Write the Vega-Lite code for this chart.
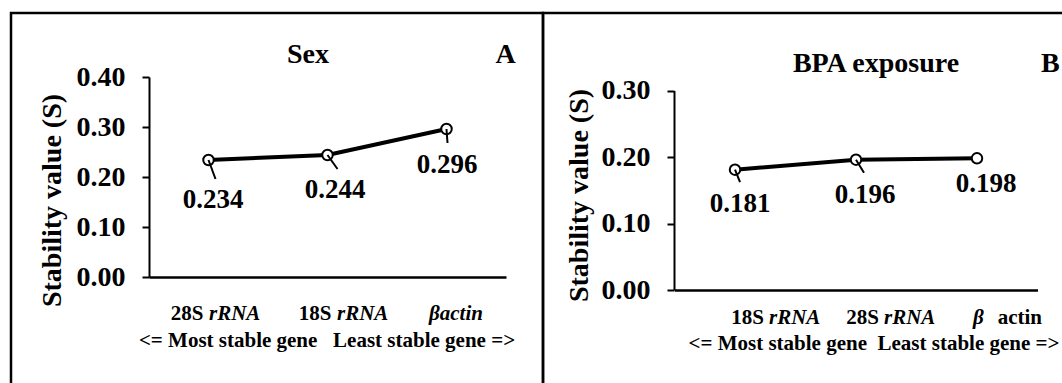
{
  "$schema": "https://vega.github.io/schema/vega-lite/v6.json",
  "padding": {"left": 9, "top": 11, "right": 0, "bottom": 0},
  "spacing": 0,
  "bounds": "flush",
  "config": {
    "font": "Liberation Serif, Times New Roman, serif",
    "view": {"stroke": "black", "strokeWidth": 2.5},
    "text": {"font": "Liberation Serif, Times New Roman, serif", "fontWeight": "bold", "color": "black"},
    "axis": {"grid": false, "domainColor": "black", "tickColor": "black", "labelColor": "black", "titleColor": "black", "labelFont": "Liberation Serif, Times New Roman, serif", "titleFont": "Liberation Serif, Times New Roman, serif", "labelFontWeight": "bold", "titleFontWeight": "bold"}
  },
  "datasets": {
    "sex": [
      {"gene": "28S rRNA", "S": 0.234, "pre": "28S", "suf": "rRNA"},
      {"gene": "18S rRNA", "S": 0.244, "pre": "18S", "suf": "rRNA"},
      {"gene": "βactin", "S": 0.296, "pre": "", "suf": "βactin"}
    ],
    "bpa": [
      {"gene": "18S rRNA", "S": 0.181, "pre": "18S", "suf": "rRNA"},
      {"gene": "28S rRNA", "S": 0.196, "pre": "28S", "suf": "rRNA"},
      {"gene": "β actin", "S": 0.198, "pre": "actin", "suf": "β"}
    ]
  },
  "hconcat": [
    {
      "width": 532,
      "height": 400,
      "data": {"name": "sex"},
      "encoding": {
        "x": {"field": "gene", "type": "nominal",
          "scale": {"type": "point", "domain": ["28S rRNA", "18S rRNA", "βactin"], "range": [138, 495], "padding": 0.5},
          "axis": {"orient": "bottom", "offset": -136, "labels": false, "ticks": false, "domainWidth": 2.5,
            "title": "<= Most stable gene\u00a0\u00a0 Least stable gene =>", "titleFontSize": 21, "titleX": 315.5, "titleY": 63,
            "titleBaseline": "middle", "titleAlign": "center", "titleLimit": 1000}},
        "y": {"field": "S", "type": "quantitative",
          "scale": {"domain": [0, 0.4], "range": [264, 64], "nice": false, "zero": false},
          "axis": {"orient": "left", "offset": -138, "values": [0, 0.1, 0.2, 0.3, 0.4], "format": ".2f", "labelFontSize": 28,
            "labelPadding": 17, "tickSize": 7, "tickWidth": 2, "domainWidth": 2, "title": "Stability value (S)", "titleFontSize": 28,
            "titleX": -97, "titleY": 187, "titleAngle": -90, "titleAlign": "center", "titleBaseline": "middle", "titleLimit": 1000}}
      },
      "layer": [
        {"mark": {"type": "line", "color": "black", "strokeWidth": 4}},
        {"mark": {"type": "point", "shape": "circle", "filled": true, "fill": "white", "stroke": "black", "strokeWidth": 2, "size": 110, "opacity": 1}},
        {"transform": [{"filter": "datum.gene === '28S rRNA'"}],
         "mark": {"type": "rule", "color": "black", "strokeWidth": 2, "x2Offset": 7, "y2Offset": 19},
         "encoding": {"x2": {"field": "gene"}, "y2": {"field": "S"}}},
        {"transform": [{"filter": "datum.gene === '18S rRNA'"}],
         "mark": {"type": "rule", "color": "black", "strokeWidth": 2, "x2Offset": 10, "y2Offset": 14},
         "encoding": {"x2": {"field": "gene"}, "y2": {"field": "S"}}},
        {"transform": [{"filter": "datum.gene === 'βactin'"}],
         "mark": {"type": "rule", "color": "black", "strokeWidth": 2, "x2Offset": 1, "y2Offset": 14},
         "encoding": {"x2": {"field": "gene"}, "y2": {"field": "S"}}},
        {"transform": [{"filter": "datum.gene === '28S rRNA'"}],
         "mark": {"type": "text", "fontSize": 27, "dx": 4.5, "dy": 40},
         "encoding": {"text": {"field": "S", "type": "quantitative", "format": ".3f"}}},
        {"transform": [{"filter": "datum.gene === '18S rRNA'"}],
         "mark": {"type": "text", "fontSize": 27, "dx": 7.5, "dy": 35},
         "encoding": {"text": {"field": "S", "type": "quantitative", "format": ".3f"}}},
        {"transform": [{"filter": "datum.gene === 'βactin'"}],
         "mark": {"type": "text", "fontSize": 27, "dx": 0.5, "dy": 36},
         "encoding": {"text": {"field": "S", "type": "quantitative", "format": ".3f"}}},
        {"transform": [{"filter": "datum.gene === '28S rRNA'"}],
         "mark": {"type": "text", "fontSize": 21, "align": "right", "dx": -5, "dy": 37},
         "encoding": {"y": {"datum": 0}, "text": {"field": "pre"}}},
        {"transform": [{"filter": "datum.gene === '28S rRNA'"}],
         "mark": {"type": "text", "fontSize": 21, "fontStyle": "italic", "align": "left", "dx": 0.5, "dy": 37},
         "encoding": {"y": {"datum": 0}, "text": {"field": "suf"}}},
        {"transform": [{"filter": "datum.gene === '18S rRNA'"}],
         "mark": {"type": "text", "fontSize": 21, "align": "right", "dx": 4, "dy": 37},
         "encoding": {"y": {"datum": 0}, "text": {"field": "pre"}}},
        {"transform": [{"filter": "datum.gene === '18S rRNA'"}],
         "mark": {"type": "text", "fontSize": 21, "fontStyle": "italic", "align": "left", "dx": 9.5, "dy": 37},
         "encoding": {"y": {"datum": 0}, "text": {"field": "suf"}}},
        {"transform": [{"filter": "datum.gene === 'βactin'"}],
         "mark": {"type": "text", "fontSize": 21, "fontStyle": "italic", "align": "center", "dx": 9.5, "dy": 37},
         "encoding": {"y": {"datum": 0}, "text": {"field": "suf"}}},
        {"transform": [{"filter": "datum.gene === '18S rRNA'"}],
         "mark": {"type": "text", "fontSize": 28, "dx": -19.5, "dy": -22},
         "encoding": {"y": {"datum": 0.4}, "text": {"value": "Sex"}}},
        {"transform": [{"filter": "datum.gene === 'βactin'"}],
         "mark": {"type": "text", "fontSize": 28, "dx": 59, "dy": -22},
         "encoding": {"y": {"datum": 0.4}, "text": {"value": "A"}}}
      ]
    },
    {
      "width": 540,
      "height": 400,
      "data": {"name": "bpa"},
      "encoding": {
        "x": {"field": "gene", "type": "nominal",
          "scale": {"type": "point", "domain": ["18S rRNA", "28S rRNA", "β actin"], "range": [131.5, 494.5], "padding": 0.5},
          "axis": {"orient": "bottom", "offset": -123, "labels": false, "ticks": false, "domainWidth": 2.5,
            "title": "<= Most stable gene\u00a0 Least stable gene =>", "titleFontSize": 21, "titleX": 145, "titleY": 53,
            "titleBaseline": "middle", "titleAlign": "left", "titleLimit": 1000}},
        "y": {"field": "S", "type": "quantitative",
          "scale": {"domain": [0, 0.3], "range": [277, 77.5], "nice": false, "zero": false},
          "axis": {"orient": "left", "offset": -131, "values": [0, 0.1, 0.2, 0.3], "format": ".2f", "labelFontSize": 28,
            "labelPadding": 17, "tickSize": 7, "tickWidth": 2, "domainWidth": 2, "title": "Stability value (S)", "titleFontSize": 28,
            "titleX": -95, "titleY": 182, "titleAngle": -90, "titleAlign": "center", "titleBaseline": "middle", "titleLimit": 1000}}
      },
      "layer": [
        {"mark": {"type": "line", "color": "black", "strokeWidth": 4}},
        {"mark": {"type": "point", "shape": "circle", "filled": true, "fill": "white", "stroke": "black", "strokeWidth": 2, "size": 110, "opacity": 1}},
        {"transform": [{"filter": "datum.gene === '18S rRNA'"}],
         "mark": {"type": "rule", "color": "black", "strokeWidth": 2, "x2Offset": 5, "y2Offset": 12.5},
         "encoding": {"x2": {"field": "gene"}, "y2": {"field": "S"}}},
        {"transform": [{"filter": "datum.gene === '28S rRNA'"}],
         "mark": {"type": "rule", "color": "black", "strokeWidth": 2, "x2Offset": 8, "y2Offset": 13},
         "encoding": {"x2": {"field": "gene"}, "y2": {"field": "S"}}},
        {"transform": [{"filter": "datum.gene === '18S rRNA'"}],
         "mark": {"type": "text", "fontSize": 27, "dx": 5, "dy": 34},
         "encoding": {"text": {"field": "S", "type": "quantitative", "format": ".3f"}}},
        {"transform": [{"filter": "datum.gene === '28S rRNA'"}],
         "mark": {"type": "text", "fontSize": 27, "dx": 9, "dy": 35},
         "encoding": {"text": {"field": "S", "type": "quantitative", "format": ".3f"}}},
        {"transform": [{"filter": "datum.gene === 'β actin'"}],
         "mark": {"type": "text", "fontSize": 27, "dx": 9, "dy": 26},
         "encoding": {"text": {"field": "S", "type": "quantitative", "format": ".3f"}}},
        {"transform": [{"filter": "datum.gene === '18S rRNA'"}],
         "mark": {"type": "text", "fontSize": 21, "align": "right", "dx": 29, "dy": 28},
         "encoding": {"y": {"datum": 0}, "text": {"field": "pre"}}},
        {"transform": [{"filter": "datum.gene === '18S rRNA'"}],
         "mark": {"type": "text", "fontSize": 21, "fontStyle": "italic", "align": "left", "dx": 34, "dy": 28},
         "encoding": {"y": {"datum": 0}, "text": {"field": "suf"}}},
        {"transform": [{"filter": "datum.gene === '28S rRNA'"}],
         "mark": {"type": "text", "fontSize": 21, "align": "right", "dx": 23, "dy": 28},
         "encoding": {"y": {"datum": 0}, "text": {"field": "pre"}}},
        {"transform": [{"filter": "datum.gene === '28S rRNA'"}],
         "mark": {"type": "text", "fontSize": 21, "fontStyle": "italic", "align": "left", "dx": 28, "dy": 28},
         "encoding": {"y": {"datum": 0}, "text": {"field": "suf"}}},
        {"transform": [{"filter": "datum.gene === 'β actin'"}],
         "mark": {"type": "text", "fontSize": 21, "fontStyle": "italic", "align": "left", "dx": -4, "dy": 28},
         "encoding": {"y": {"datum": 0}, "text": {"field": "suf"}}},
        {"transform": [{"filter": "datum.gene === 'β actin'"}],
         "mark": {"type": "text", "fontSize": 21, "align": "right", "dx": 65, "dy": 28},
         "encoding": {"y": {"datum": 0}, "text": {"field": "pre"}}},
        {"transform": [{"filter": "datum.gene === '28S rRNA'"}],
         "mark": {"type": "text", "fontSize": 28, "dx": 20, "dy": -26.5},
         "encoding": {"y": {"datum": 0.3}, "text": {"value": "BPA exposure"}}},
        {"transform": [{"filter": "datum.gene === 'β actin'"}],
         "mark": {"type": "text", "fontSize": 28, "align": "left", "dx": 64, "dy": -26.5},
         "encoding": {"y": {"datum": 0.3}, "text": {"value": "B"}}}
      ]
    }
  ]
}
